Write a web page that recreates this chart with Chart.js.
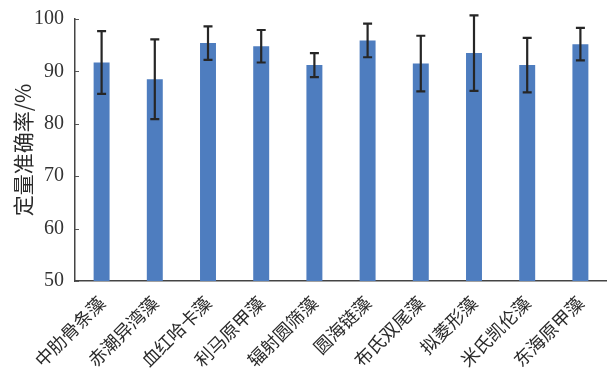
<!DOCTYPE html>
<html>
<head>
<meta charset="utf-8">
<script src="https://cdn.jsdelivr.net/npm/chart.js@4.4.1/dist/chart.umd.min.js"></script>
<style>
  html, body { margin: 0; padding: 0; background: #fff; }
  #wrap { width: 607px; height: 371px; position: relative; }
</style>
</head>
<body>
<div id="wrap"><canvas id="chartCanvas"></canvas></div>
<script>
// species names along the x axis
const species = ['中肋骨条藻', '赤潮异湾藻', '血红哈卡藻', '利马原甲藻', '辐射圆筛藻',
                 '圆海链藻', '布氏双尾藻', '拟菱形藻', '米氏凯伦藻', '东海原甲藻'];
// mean quantitative accuracy (%) and its standard deviation
const accuracy = [91.7, 88.5, 95.4, 94.8, 91.2, 95.9, 91.5, 93.5, 91.2, 95.2];
const accuracySd = [6.0, 7.6, 3.2, 3.1, 2.3, 3.2, 5.3, 7.2, 5.2, 3.1];
const yTicks = [50, 60, 70, 80, 90, 100];

const SERIF = '"Liberation Serif", "Times New Roman", serif';
const CJK = '"Noto Sans CJK SC", sans-serif';

// error bars and inward y ticks, drawn after the bars
const errorBarPlugin = {
    id: 'errorBars',
    afterDatasetsDraw(chart) {
        const ctx = chart.ctx;
        const x = chart.scales.x;
        const y = chart.scales.y;
        ctx.save();
        ctx.strokeStyle = '#262626';
        ctx.lineWidth = 2.2;
        for (let i = 0; i < accuracy.length; i++) {
            const cx = x.getPixelForValue(i);
            const top = y.getPixelForValue(accuracy[i] + accuracySd[i]);
            const bot = y.getPixelForValue(accuracy[i] - accuracySd[i]);
            ctx.beginPath();
            ctx.moveTo(cx, top);
            ctx.lineTo(cx, bot);
            ctx.moveTo(cx - 4.5, top);
            ctx.lineTo(cx + 4.5, top);
            ctx.moveTo(cx - 4.5, bot);
            ctx.lineTo(cx + 4.5, bot);
            ctx.stroke();
        }
        ctx.strokeStyle = '#555';
        ctx.lineWidth = 1;
        const left = chart.chartArea.left;
        yTicks.forEach(function(v) {
            const py = Math.round(y.getPixelForValue(v)) + 0.5;
            ctx.beginPath();
            ctx.moveTo(left, py);
            ctx.lineTo(left + 4, py);
            ctx.stroke();
        });
        ctx.restore();
    }
};

const ctx = document.getElementById('chartCanvas').getContext('2d');
new Chart(ctx, {
    type: 'bar',
    data: {
        labels: species,
        datasets: [{
            data: accuracy,
            backgroundColor: '#4e7dbf',
            borderWidth: 0,
            categoryPercentage: 1,
            barPercentage: 0.3
        }]
    },
    options: {
        responsive: true,
        maintainAspectRatio: false,
        animation: false,
        layout: { padding: { top: 19, right: 0, left: 10, bottom: 0 } },
        plugins: {
            legend: { display: false },
            tooltip: { enabled: false }
        },
        scales: {
            x: {
                grid: { display: false },
                border: { display: true, color: '#444', width: 1.5 },
                ticks: {
                    color: '#2a2a2a',
                    font: { family: CJK, size: 18 },
                    minRotation: 45,
                    maxRotation: 45,
                    padding: 3
                },
                afterFit: function(scale) { scale.height = 90; }
            },
            y: {
                min: 50,
                max: 100,
                grid: { display: false },
                border: { display: true, color: '#444', width: 1.5 },
                afterBuildTicks: function(scale) {
                    scale.ticks = yTicks.map(function(v) { return { value: v }; });
                },
                ticks: {
                    color: '#333',
                    font: { family: SERIF, size: 20 },
                    padding: 3
                },
                title: {
                    display: true,
                    text: '定量准确率/%',
                    color: '#2a2a2a',
                    font: { family: CJK, size: 21 },
                    padding: { top: 0, bottom: 4 }
                },
                afterFit: function(scale) { scale.width = 65; }
            }
        }
    },
    plugins: [errorBarPlugin]
});
</script>
</body>
</html>
